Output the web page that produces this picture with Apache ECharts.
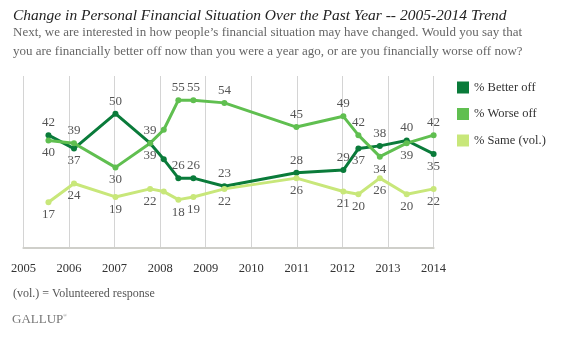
<!DOCTYPE html>
<html>
<head>
<meta charset="utf-8">
<script src="https://cdn.jsdelivr.net/npm/echarts@6/dist/echarts.min.js"></script>
<style>
html,body{margin:0;padding:0;background:#fff;}
#chart{width:564px;height:344px;}
</style>
</head>
<body>
<div id="chart"></div>
<script>
// Survey dates as decimal years
var surveyDates = [2005.55, 2006.11, 2007.02, 2007.78, 2008.08, 2008.40, 2008.73, 2009.41, 2010.99, 2012.02, 2012.35, 2012.82, 2013.41, 2014.00];
var betterOff = [42, 37, 50, 39, 33, 26, 26, 23, 28, 29, 37, 38, 40, 35];
var worseOff  = [40, 39, 30, 39, 44, 55, 55, 54, 45, 49, 42, 34, 39, 42];
var sameVol   = [17, 24, 19, 22, 21, 18, 19, 22, 26, 21, 20, 26, 20, 22];
var yearTicks = [2005, 2006, 2007, 2008, 2009, 2010, 2011, 2012, 2013, 2014];
var seriesNames = ['% Better off', '% Worse off', '% Same (vol.)'];
// label sides (t = above, b = below, '' = no label)
var betterSide = ['t','b','t','b','','t','t','t','t','t','b','t','t','b'];
var worseSide  = ['b','t','b','t','','t','t','t','t','t','t','b','b','t'];
var sameSide   = ['b','b','b','b','','b','b','b','b','b','b','b','b','b'];

var SERIF = '"Liberation Serif", "DejaVu Serif", serif';
var colors = ['#0a7b3a', '#60bf50', '#c8e77a'];

function buildData(vals, sides) {
  return vals.map(function (v, i) {
    var s = sides[i];
    return {
      value: [surveyDates[i], v],
      label: s === '' ? { show: false } : { show: true, position: s === 't' ? 'top' : 'bottom' }
    };
  });
}

function mkSeries(name, vals, sides, color) {
  return {
    name: name,
    type: 'line',
    data: buildData(vals, sides),
    symbol: 'circle',
    symbolSize: 6,
    showAllSymbol: true,
    lineStyle: { width: 3, color: color },
    itemStyle: { color: color },
    label: {
      show: true,
      distance: 3,
      color: '#555',
      fontSize: 13,
      fontFamily: SERIF
    },
    emphasis: { disabled: true },
    animation: false
  };
}

var chart = echarts.init(document.getElementById('chart'), null, { renderer: 'canvas' });
chart.setOption({
  backgroundColor: '#fff',
  animation: false,
  title: [
    {
      text: 'Change in Personal Financial Situation Over the Past Year -- 2005-2014 Trend',
      left: 8, top: 3,
      textStyle: { fontFamily: SERIF, fontStyle: 'italic', fontWeight: 'normal', fontSize: 15.5, color: '#222' }
    },
    {
      text: 'Next, we are interested in how people\u2019s financial situation may have changed. Would you say that\nyou are financially better off now than you were a year ago, or are you financially worse off now?',
      left: 8, top: 18,
      textStyle: { fontFamily: SERIF, fontWeight: 'normal', fontSize: 13, color: '#666', lineHeight: 19 }
    },
    {
      text: '(vol.) = Volunteered response',
      left: 8, top: 283,
      textStyle: { fontFamily: SERIF, fontWeight: 'normal', fontSize: 12, color: '#555' }
    },
    {
      text: 'GALLUP{r|\u00AE}',
      left: 7, top: 308,
      textStyle: {
        fontFamily: SERIF, fontWeight: 'normal', fontSize: 13, color: '#777',
        rich: { r: { fontSize: 5, color: '#777', verticalAlign: 'top', padding: [0, 0, 6, 0] } }
      }
    }
  ],
  legend: {
    orient: 'vertical',
    left: 452, top: 76,
    icon: 'rect',
    itemWidth: 12, itemHeight: 12,
    itemGap: 13.5,
    data: seriesNames,
    textStyle: { fontFamily: SERIF, fontSize: 12.5, color: '#333' },
    selectedMode: false
  },
  grid: { left: 23.4, right: 130.4, top: 76, bottom: 96, containLabel: false },
  xAxis: {
    type: 'value',
    min: yearTicks[0], max: yearTicks[yearTicks.length - 1], interval: 1,
    axisLine: { show: true, lineStyle: { color: '#cfcfca', width: 2 } },
    axisTick: { show: false },
    splitLine: { show: true, lineStyle: { color: '#d4d4d4', width: 1 } },
    axisLabel: {
      margin: 14,
      fontFamily: SERIF, fontSize: 12.5, color: '#333',
      formatter: function (v) { return String(v); },
      showMinLabel: true, showMaxLabel: true
    }
  },
  yAxis: {
    type: 'value', min: 0, max: 64,
    show: false,
    splitLine: { show: false }
  },
  series: [
    mkSeries(seriesNames[0], betterOff, betterSide, colors[0]),
    mkSeries(seriesNames[1], worseOff, worseSide, colors[1]),
    mkSeries(seriesNames[2], sameVol, sameSide, colors[2])
  ]
});
</script>
</body>
</html>
